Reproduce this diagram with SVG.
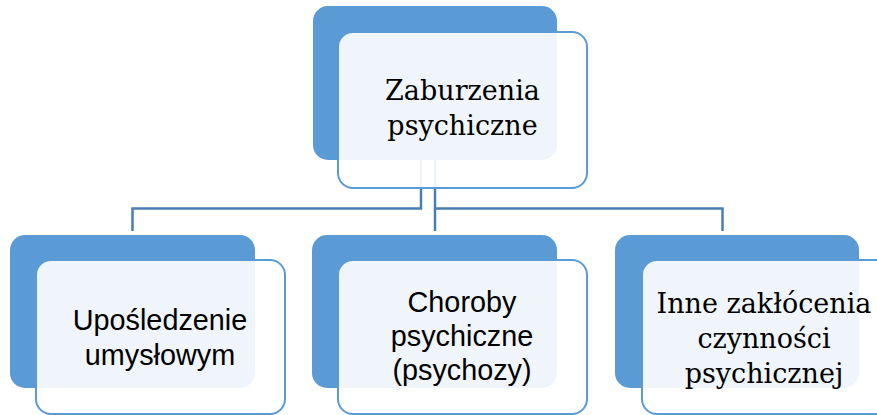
<svg xmlns="http://www.w3.org/2000/svg" width="877" height="415" viewBox="0 0 877 415">
<style>
.back{fill:#5B9BD5;}
.front{fill:#FFFFFF;fill-opacity:0.9;stroke:#5B9BD5;stroke-width:2;}
.conn{fill:none;stroke:#4A7EB0;stroke-width:2.5;}
.serif{font-family:"DejaVu Serif","Liberation Serif",serif;font-size:27px;fill:#000;text-anchor:middle;}
.sans{font-family:"Liberation Sans","Noto Sans",sans-serif;font-size:28.8px;fill:#000;text-anchor:middle;}
</style>
<rect width="877" height="415" fill="#FFFFFF"/>
<g id="connectors">
<path class="conn" d="M421,160 V208.5 H132.5 V231"/>
<path class="conn" d="M435,160 V231"/>
<path class="conn" d="M435,208.5 H722.5 V231"/>
</g>
<g id="node-root">
<rect class="back" x="313" y="6" width="244" height="154" rx="15"/>
<rect class="front" x="338" y="32" width="249" height="156" rx="15"/>
<text class="serif"><tspan x="462.5" y="100">Zaburzenia</tspan><tspan x="462.5" y="135">psychiczne</tspan></text>
</g>
<g id="node-left">
<rect class="back" x="10" y="235" width="245" height="153" rx="15"/>
<rect class="front" x="36" y="260" width="249" height="154" rx="15"/>
<text class="sans"><tspan x="160" y="330">Upośledzenie</tspan><tspan x="160" y="365">umysłowym</tspan></text>
</g>
<g id="node-middle">
<rect class="back" x="312" y="235" width="245" height="153" rx="15"/>
<rect class="front" x="338" y="260" width="249" height="154" rx="15"/>
<text class="sans"><tspan x="462" y="312">Choroby</tspan><tspan x="462" y="346">psychiczne</tspan><tspan x="462" y="380">(psychozy)</tspan></text>
</g>
<g id="node-right">
<rect class="back" x="615" y="235" width="244" height="153" rx="15"/>
<rect class="front" x="642" y="260" width="249" height="154" rx="15"/>
<text class="serif"><tspan x="764" y="313">Inne zakłócenia</tspan><tspan x="764" y="348">czynności</tspan><tspan x="764" y="383">psychicznej</tspan></text>
</g>
</svg>
